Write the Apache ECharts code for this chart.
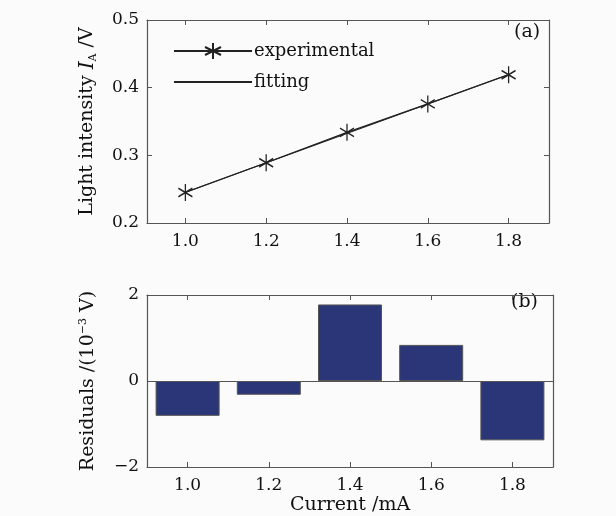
<!DOCTYPE html>
<html>
<head>
<meta charset="utf-8">
<script src="https://cdn.jsdelivr.net/npm/echarts@6/dist/echarts.min.js"></script>
<style>
html, body { margin: 0; background: #fbfbfb; }
#main { width: 616px; height: 516px; }
</style>
</head>
<body>
<div id="main"></div>
<script>
var currents = [1.0, 1.2, 1.4, 1.6, 1.8];
var measured = [0.245, 0.289, 0.334, 0.376, 0.419];
var fitCurrents = [1.0, 1.8];
var fitValues = [0.2455, 0.4195];
var residuals = [-0.81, -0.32, 1.78, 0.84, -1.38];
var xTicks = [1.0, 1.2, 1.4, 1.6, 1.8];
var topTicks = [0.2, 0.3, 0.4, 0.5];
var resTicks = [-2, 0, 2];

var myChart = echarts.init(document.getElementById('main'));
var FONT = 'DejaVu Serif';
var AXIS = '#555';
var INK = '#111';
var STAR = 'path://M10,0L10,20M1.34,5L18.66,15M1.34,15L18.66,5';

function pairs(xs, ys) {
    return xs.map(function(x, i) { return [x, ys[i]]; });
}

function xAxisFor(grid, min, max, pos, labels) {
    return {
        type: 'value', gridIndex: grid, min: min, max: max, position: pos,
        splitLine: {show: false},
        axisLine: {show: true, onZero: false, lineStyle: {color: AXIS, width: 1.2}},
        axisTick: {show: true, inside: true, length: 5, customValues: xTicks, lineStyle: {color: AXIS}},
        axisLabel: {show: labels, customValues: xTicks, margin: 10, color: INK, fontFamily: FONT, fontSize: 17,
            formatter: function(v) { return v.toFixed(1); }}
    };
}

function yAxisFor(grid, min, max, pos, labels, ticks, fmt) {
    return {
        type: 'value', gridIndex: grid, min: min, max: max, position: pos,
        splitLine: {show: false},
        axisLine: {show: true, onZero: false, lineStyle: {color: AXIS, width: 1.2}},
        axisTick: {show: true, inside: true, length: 5, customValues: ticks, lineStyle: {color: AXIS}},
        axisLabel: {show: labels, customValues: ticks, margin: 8, color: INK, fontFamily: FONT, fontSize: 17,
            formatter: fmt}
    };
}

var xs = [
    xAxisFor(0, 0.905, 1.9, 'bottom', true),
    xAxisFor(0, 0.905, 1.9, 'top', false),
    xAxisFor(1, 0.9, 1.9, 'bottom', true),
    xAxisFor(1, 0.9, 1.9, 'top', false)
];
xs[2].name = 'Current /mA';
xs[2].nameLocation = 'middle';
xs[2].nameGap = 29;
xs[2].nameTextStyle = {color: INK, fontFamily: FONT, fontSize: 19};

var ys = [
    yAxisFor(0, 0.2, 0.5, 'left', true, topTicks, function(v) { return v.toFixed(1); }),
    yAxisFor(0, 0.2, 0.5, 'right', false, topTicks),
    yAxisFor(1, -2, 2, 'left', true, resTicks, function(v) { return v < 0 ? '\u2212' + Math.abs(v) : String(v); }),
    yAxisFor(1, -2, 2, 'right', false, resTicks)
];
ys[0].name = 'Light intensity {it|I}{sub|A} /V';
ys[0].nameLocation = 'middle';
ys[0].nameGap = 48;
ys[0].nameTextStyle = {color: INK, fontFamily: FONT, fontSize: 19,
    rich: {
        it: {fontFamily: FONT, fontSize: 20, fontStyle: 'italic', color: INK},
        sub: {fontFamily: FONT, fontSize: 11, color: INK, verticalAlign: 'bottom', padding: [12, 0, 0, 0]}
    }};
ys[2].name = 'Residuals /(10{sup|\u22123} V)';
ys[2].nameLocation = 'middle';
ys[2].nameGap = 48;
ys[2].nameTextStyle = {color: INK, fontFamily: FONT, fontSize: 19,
    rich: {
        sup: {fontFamily: FONT, fontSize: 11, color: INK, verticalAlign: 'top', padding: [0, 0, 10, 0]}
    }};

var option = {
    backgroundColor: '#fbfbfb',
    animation: false,
    grid: [
        {left: 147, top: 20, width: 402, height: 203},
        {left: 147, top: 295, width: 406, height: 173}
    ],
    legend: {
        orient: 'vertical', left: 168, top: 37, itemWidth: 78, itemHeight: 20, itemGap: 13,
        textStyle: {color: INK, fontFamily: FONT, fontSize: 18, padding: [0, 0, 0, -3]},
        data: [
            {name: 'experimental'},
            {name: 'fitting', itemStyle: {opacity: 0}}
        ]
    },
    xAxis: xs,
    yAxis: ys,
    graphic: [
        {type: 'text', left: 514, top: 23, style: {text: '(a)', fill: INK, font: '19px "DejaVu Serif"'}},
        {type: 'text', left: 511, top: 293, style: {text: '(b)', fill: INK, font: '19px "DejaVu Serif"'}}
    ],
    series: [
        {
            name: 'experimental', type: 'line', xAxisIndex: 0, yAxisIndex: 0,
            data: pairs(currents, measured),
            symbol: STAR, symbolSize: [14, 17],
            itemStyle: {color: '#222', borderColor: '#222', borderWidth: 1.4},
            lineStyle: {color: '#222', width: 1.2}
        },
        {
            name: 'fitting', type: 'line', xAxisIndex: 0, yAxisIndex: 0,
            data: pairs(fitCurrents, fitValues),
            showSymbol: false,
            itemStyle: {color: '#222'},
            lineStyle: {color: '#222', width: 1.2}
        },
        {
            name: 'residuals', type: 'bar', xAxisIndex: 2, yAxisIndex: 2,
            data: pairs(currents, residuals),
            barWidth: 64,
            itemStyle: {color: '#2b3678', borderColor: '#555', borderWidth: 1},
            markLine: {
                silent: true, symbol: 'none', label: {show: false},
                lineStyle: {color: AXIS, type: 'solid', width: 1},
                data: [{yAxis: 0}]
            }
        }
    ]
};
myChart.setOption(option);
</script>
</body>
</html>
